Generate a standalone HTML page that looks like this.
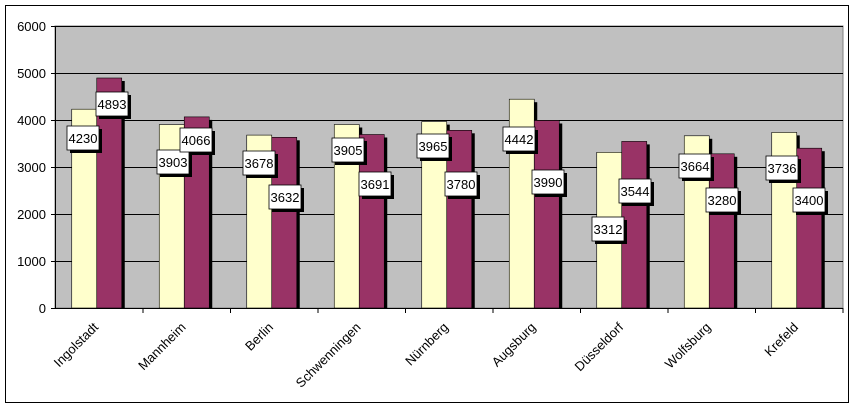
<!DOCTYPE html>
<html><head><meta charset="utf-8"><style>body{margin:0;background:#fff}svg{display:block}text{font-family:"Liberation Sans",Arial,sans-serif}</style></head>
<body>
<svg width="855" height="408" xmlns="http://www.w3.org/2000/svg">
<rect x="5.5" y="5.5" width="843" height="397" fill="#fff" stroke="#000" stroke-width="1"/>
<rect x="55" y="26" width="788" height="282" fill="#c0c0c0" stroke="#808080" stroke-width="1"/>
<g stroke="#000" stroke-width="1">
<line x1="55" y1="26.5" x2="843" y2="26.5"/>
<line x1="55" y1="73.5" x2="843" y2="73.5"/>
<line x1="55" y1="120.5" x2="843" y2="120.5"/>
<line x1="55" y1="167.5" x2="843" y2="167.5"/>
<line x1="55" y1="214.5" x2="843" y2="214.5"/>
<line x1="55" y1="261.5" x2="843" y2="261.5"/>
<line x1="55.5" y1="26" x2="55.5" y2="308"/>
<line x1="51" y1="26.5" x2="55" y2="26.5"/><line x1="51" y1="73.5" x2="55" y2="73.5"/><line x1="51" y1="120.5" x2="55" y2="120.5"/><line x1="51" y1="167.5" x2="55" y2="167.5"/><line x1="51" y1="214.5" x2="55" y2="214.5"/><line x1="51" y1="261.5" x2="55" y2="261.5"/><line x1="51" y1="308.5" x2="55" y2="308.5"/>
</g>
<g font-size="13" text-anchor="end" fill="#000">
<text x="46" y="31">6000</text><text x="46" y="78">5000</text><text x="46" y="125">4000</text><text x="46" y="172">3000</text><text x="46" y="219">2000</text><text x="46" y="266">1000</text><text x="46" y="313">0</text>
</g>
<g fill="#000">
<rect x="74.75" y="112.2" width="25" height="195.8"/><rect x="99.75" y="81" width="25" height="227"/>
<rect x="162.25" y="127.6" width="25" height="180.4"/><rect x="187.25" y="119.9" width="25" height="188.1"/>
<rect x="249.75" y="138.1" width="25" height="169.9"/><rect x="274.75" y="140.3" width="25" height="167.7"/>
<rect x="337.25" y="127.5" width="25" height="180.5"/><rect x="362.25" y="137.5" width="25" height="170.5"/>
<rect x="424.75" y="124.6" width="25" height="183.4"/><rect x="449.75" y="133.3" width="25" height="174.7"/>
<rect x="512.25" y="102.2" width="25" height="205.8"/><rect x="537.25" y="123.5" width="25" height="184.5"/>
<rect x="599.75" y="155.3" width="25" height="152.7"/><rect x="624.75" y="144.4" width="25" height="163.6"/>
<rect x="687.25" y="138.8" width="25" height="169.2"/><rect x="712.25" y="156.8" width="25" height="151.2"/>
<rect x="774.75" y="135.4" width="25" height="172.6"/><rect x="799.75" y="151.2" width="25" height="156.8"/>
</g>
<g stroke="#000" stroke-width="0.6">
<rect x="71.75" y="109.2" width="25" height="198.8" fill="#ffffcc"/><rect x="96.75" y="78" width="25" height="230" fill="#993366"/>
<rect x="159.25" y="124.6" width="25" height="183.4" fill="#ffffcc"/><rect x="184.25" y="116.9" width="25" height="191.1" fill="#993366"/>
<rect x="246.75" y="135.1" width="25" height="172.9" fill="#ffffcc"/><rect x="271.75" y="137.3" width="25" height="170.7" fill="#993366"/>
<rect x="334.25" y="124.5" width="25" height="183.5" fill="#ffffcc"/><rect x="359.25" y="134.5" width="25" height="173.5" fill="#993366"/>
<rect x="421.75" y="121.6" width="25" height="186.4" fill="#ffffcc"/><rect x="446.75" y="130.3" width="25" height="177.7" fill="#993366"/>
<rect x="509.25" y="99.2" width="25" height="208.8" fill="#ffffcc"/><rect x="534.25" y="120.5" width="25" height="187.5" fill="#993366"/>
<rect x="596.75" y="152.3" width="25" height="155.7" fill="#ffffcc"/><rect x="621.75" y="141.4" width="25" height="166.6" fill="#993366"/>
<rect x="684.25" y="135.8" width="25" height="172.2" fill="#ffffcc"/><rect x="709.25" y="153.8" width="25" height="154.2" fill="#993366"/>
<rect x="771.75" y="132.4" width="25" height="175.6" fill="#ffffcc"/><rect x="796.75" y="148.2" width="25" height="159.8" fill="#993366"/>
</g>
<line x1="55" y1="308.5" x2="843" y2="308.5" stroke="#000"/>
<g stroke="#000">
<line x1="143" y1="308" x2="143" y2="313"/><line x1="230.5" y1="308" x2="230.5" y2="313"/><line x1="318" y1="308" x2="318" y2="313"/><line x1="405.5" y1="308" x2="405.5" y2="313"/><line x1="493" y1="308" x2="493" y2="313"/><line x1="580.5" y1="308" x2="580.5" y2="313"/><line x1="668" y1="308" x2="668" y2="313"/><line x1="755.5" y1="308" x2="755.5" y2="313"/><line x1="843" y1="308" x2="843" y2="313"/>
</g>
<g fill="#000">
<rect x="70" y="129" width="32" height="24"/><rect x="99" y="95" width="32" height="24"/>
<rect x="160" y="153" width="32" height="24"/><rect x="183" y="131" width="32" height="24"/>
<rect x="246" y="154" width="32" height="24"/><rect x="272" y="188" width="32" height="24"/>
<rect x="335" y="141" width="32" height="24"/><rect x="362" y="175" width="32" height="24"/>
<rect x="420" y="137" width="32" height="24"/><rect x="448" y="175" width="32" height="24"/>
<rect x="506" y="130" width="32" height="24"/><rect x="535" y="173" width="32" height="24"/>
<rect x="595" y="220" width="32" height="24"/><rect x="622" y="182" width="32" height="24"/>
<rect x="682" y="157" width="32" height="24"/><rect x="709" y="191" width="32" height="24"/>
<rect x="769" y="159" width="32" height="24"/><rect x="796" y="191" width="32" height="24"/>
</g>
<g fill="#fff" stroke="#000" stroke-width="0.8">
<rect x="67" y="126" width="32" height="24"/><rect x="96" y="92" width="32" height="24"/>
<rect x="157" y="150" width="32" height="24"/><rect x="180" y="128" width="32" height="24"/>
<rect x="243" y="151" width="32" height="24"/><rect x="269" y="185" width="32" height="24"/>
<rect x="332" y="138" width="32" height="24"/><rect x="359" y="172" width="32" height="24"/>
<rect x="417" y="134" width="32" height="24"/><rect x="445" y="172" width="32" height="24"/>
<rect x="503" y="127" width="32" height="24"/><rect x="532" y="170" width="32" height="24"/>
<rect x="592" y="217" width="32" height="24"/><rect x="619" y="179" width="32" height="24"/>
<rect x="679" y="154" width="32" height="24"/><rect x="706" y="188" width="32" height="24"/>
<rect x="766" y="156" width="32" height="24"/><rect x="793" y="188" width="32" height="24"/>
</g>
<g font-size="13" text-anchor="middle" fill="#000">
<text x="83" y="143">4230</text><text x="112" y="109">4893</text>
<text x="173" y="167">3903</text><text x="196" y="145">4066</text>
<text x="259" y="168">3678</text><text x="285" y="202">3632</text>
<text x="348" y="155">3905</text><text x="375" y="189">3691</text>
<text x="433" y="151">3965</text><text x="461" y="189">3780</text>
<text x="519" y="144">4442</text><text x="548" y="187">3990</text>
<text x="608" y="234">3312</text><text x="635" y="196">3544</text>
<text x="695" y="171">3664</text><text x="722" y="205">3280</text>
<text x="782" y="173">3736</text><text x="809" y="205">3400</text>
</g>
<g font-size="13" text-anchor="end" fill="#000">
<text x="99" y="328" transform="rotate(-45 99 328)">Ingolstadt</text>
<text x="186.5" y="328" transform="rotate(-45 186.5 328)">Mannheim</text>
<text x="274" y="328" transform="rotate(-45 274 328)">Berlin</text>
<text x="361.5" y="328" transform="rotate(-45 361.5 328)">Schwenningen</text>
<text x="449" y="328" transform="rotate(-45 449 328)">Nürnberg</text>
<text x="536.5" y="328" transform="rotate(-45 536.5 328)">Augsburg</text>
<text x="624" y="328" transform="rotate(-45 624 328)">Düsseldorf</text>
<text x="711.5" y="328" transform="rotate(-45 711.5 328)">Wolfsburg</text>
<text x="799" y="328" transform="rotate(-45 799 328)">Krefeld</text>
</g>
</svg>
</body></html>
